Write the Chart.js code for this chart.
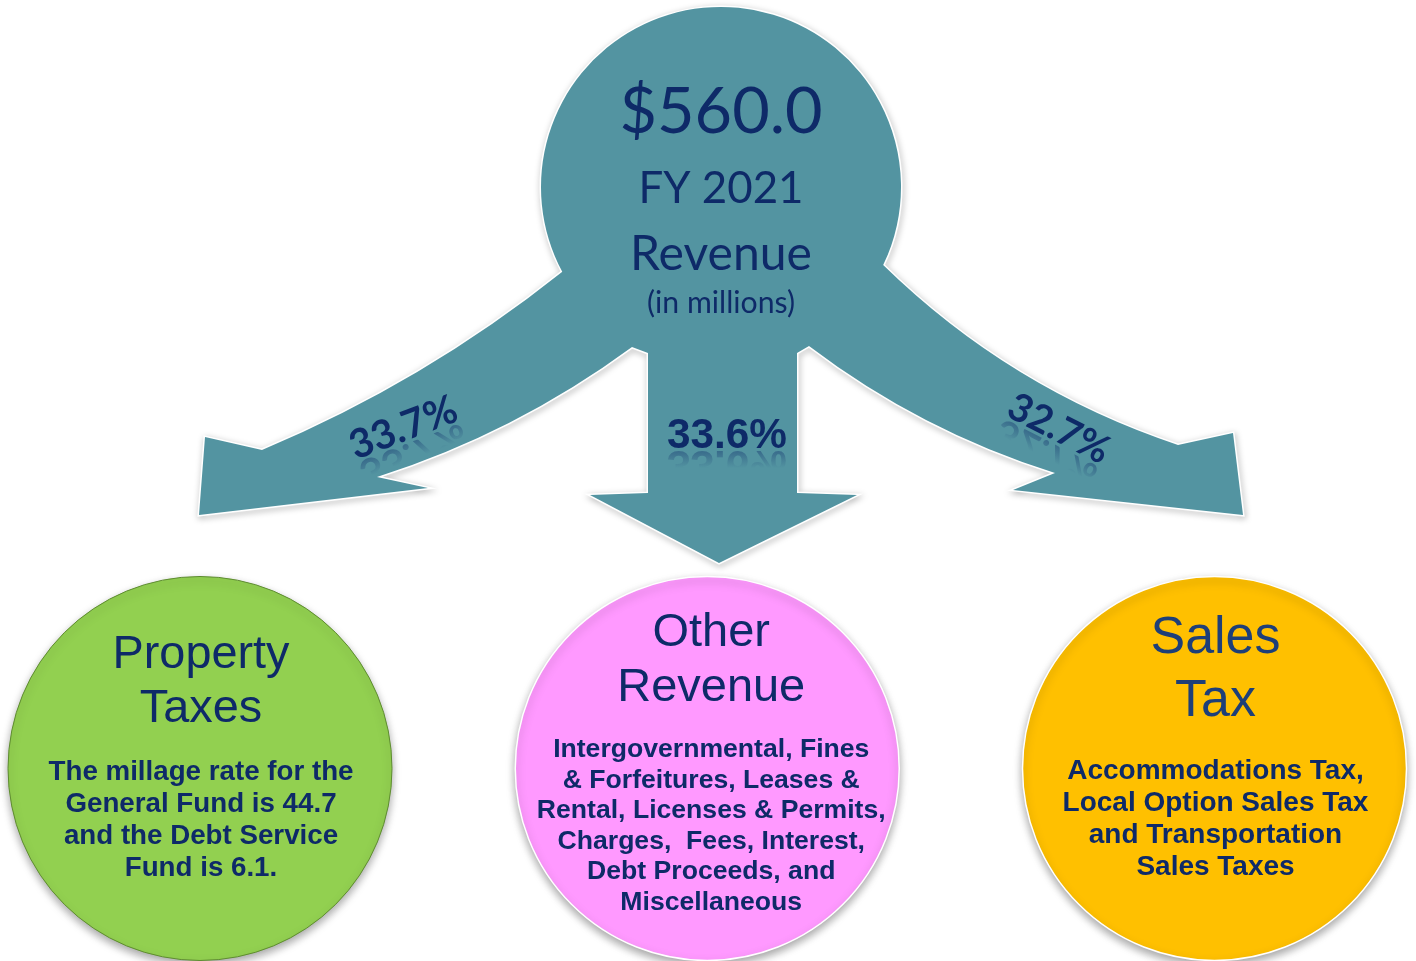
<!DOCTYPE html>
<html><head><meta charset="utf-8">
<script src="https://cdn.jsdelivr.net/npm/chart.js@4.4.1/dist/chart.umd.min.js"></script>
<style>html,body{margin:0;padding:0;background:#fff;overflow:hidden}#wrap{width:1416px;height:961px}</style>
</head><body><div id="wrap"><canvas id="c" width="1416" height="961"></canvas></div>
<script>
// ---------------- data ----------------
const categories = ['Property Taxes', 'Other Revenue', 'Sales Tax'];
const titleLines = [['Property', 'Taxes'], ['Other', 'Revenue'], ['Sales', 'Tax']];
const shares = [33.7, 33.6, 32.7];          // % of total revenue
const totalRevenue = 560.0;                 // $ millions
const fiscalYear = 'FY 2021';
const headerLines = ['Revenue', '(in millions)'];
const descriptions = [
  ['The millage rate for the', 'General Fund is 44.7', 'and the Debt Service', 'Fund is 6.1.'],
  ['Intergovernmental, Fines', '& Forfeitures, Leases &', 'Rental, Licenses & Permits,', 'Charges,  Fees, Interest,', 'Debt Proceeds, and', 'Miscellaneous'],
  ['Accommodations Tax,', 'Local Option Sales Tax', 'and Transportation', 'Sales Taxes']
];

// ---------------- style / layout ----------------
const NAVY = '#0E2A68';
const TEAL = '#5394A1';
const nodeColors = ['#92D050', '#FF99FF', '#FFC000'];
const nodeBorders = ['#5E8C30', '#FFFFFF', '#FFFFFF'];
const titleColors = [NAVY, NAVY, '#1E3F78'];
const NODE_R = 192;
const NODE_ROW = 770;
const PAD_V = 192;
const titleStyle = [
  {widthLine: 0, width: 177, base: 668, lh: 54},
  {widthLine: 1, width: 188, base: 646, lh: 55},
  {widthLine: 0, width: 130, base: 653, lh: 63}
];
const bodyStyle = [
  {widthLine: 0, width: 305, base: 780, lh: 32},
  {widthLine: 2, width: 349, base: 757, lh: 30.6},
  {widthLine: 1, width: 306, base: 779, lh: 32}
];
const textDx = [1, 4, 1];
const shareLabel = [
  {x: 408, y: 440, angle: -21, font: 'Lato', weight: 'bold', width: 112},
  {x: 727, y: 448, angle: 0, font: 'Liberation Sans', weight: 'bold', width: 120},
  {x: 1053, y: 440, angle: 27, font: 'Lato', weight: 'bold', width: 109}
];
const hub = {x: 721, y: 187, r: 180};

function flowPath(ctx) {
  ctx.beginPath();
  ctx.moveTo(562, 272);
  ctx.arc(hub.x, hub.y, hub.r, Math.atan2(272 - hub.y, 562 - hub.x), Math.atan2(265 - hub.y, 883 - hub.x), false);
  ctx.quadraticCurveTo(1010, 389, 1178, 445);
  ctx.lineTo(1233, 433); ctx.lineTo(1243, 515); ctx.lineTo(1013, 490); ctx.lineTo(1055, 473);
  ctx.quadraticCurveTo(921, 431, 809, 346);
  ctx.lineTo(797, 353); ctx.lineTo(797, 493); ctx.lineTo(857, 495); ctx.lineTo(719, 563);
  ctx.lineTo(590, 495); ctx.lineTo(648, 493); ctx.lineTo(648, 353); ctx.lineTo(632, 347);
  ctx.quadraticCurveTo(515, 433, 377, 477);
  ctx.lineTo(428, 488); ctx.lineTo(199, 515); ctx.lineTo(205, 437); ctx.lineTo(262, 450);
  ctx.quadraticCurveTo(424, 382, 562, 272);
  ctx.closePath();
}

function fitSize(ctx, text, weight, family, width) {
  ctx.font = `${weight} 100px "${family}"`;
  return 100 * width / ctx.measureText(text).width;
}

function drawReflected(ctx, text, font, x, y, angle, color) {
  ctx.save();
  ctx.translate(x, y);
  ctx.rotate(angle * Math.PI / 180);
  ctx.font = font; ctx.textAlign = 'center'; ctx.textBaseline = 'alphabetic';
  ctx.scale(1, -1);
  const g = ctx.createLinearGradient(0, 0, 0, -20);
  g.addColorStop(0, 'rgba(14,42,104,0.45)');
  g.addColorStop(1, 'rgba(14,42,104,0)');
  ctx.fillStyle = g;
  ctx.fillText(text, 0, -3);
  ctx.scale(1, -1);
  ctx.fillStyle = color;
  ctx.fillText(text, 0, 0);
  ctx.restore();
}

const flowPlugin = {
  id: 'flow',
  beforeDatasetsDraw(chart) {
    const ctx = chart.ctx;
    ctx.save();
    flowPath(ctx);
    ctx.shadowColor = 'rgba(0,0,0,0.35)'; ctx.shadowBlur = 6; ctx.shadowOffsetX = 1; ctx.shadowOffsetY = 2;
    ctx.strokeStyle = '#FFFFFF'; ctx.lineWidth = 3; ctx.lineJoin = 'miter';
    ctx.stroke();
    ctx.shadowColor = 'transparent';
    ctx.fillStyle = TEAL;
    ctx.fill();
    ctx.restore();
  },
  beforeDatasetDraw(chart) {
    const ctx = chart.ctx;
    ctx.save();
    ctx.shadowColor = 'rgba(0,0,0,0.35)'; ctx.shadowBlur = 9; ctx.shadowOffsetY = 4;
  },
  afterDatasetDraw(chart) { chart.ctx.restore(); }
};

const labelPlugin = {
  id: 'labels',
  afterDatasetsDraw(chart) {
    const ctx = chart.ctx, xs = chart.scales.x;
    ctx.save();
    ctx.textAlign = 'center'; ctx.textBaseline = 'alphabetic';
    ctx.fillStyle = NAVY;
    const hubText = [
      ['$' + totalRevenue.toFixed(1), 203, 133],
      [fiscalYear, 165, 203],
      [headerLines[0], 182, 270],
      [headerLines[1], 148, 313]
    ];
    hubText.forEach(([t, w, y]) => {
      const s = fitSize(ctx, t, '400', 'Lato', w);
      ctx.font = `400 ${s}px "Lato"`;
      ctx.fillText(t, hub.x, y);
    });
    shares.forEach((v, i) => {
      const L = shareLabel[i];
      const t = v.toFixed(1) + '%';
      const s = fitSize(ctx, t, L.weight, L.font, L.width);
      drawReflected(ctx, t, `${L.weight} ${s}px "${L.font}"`, L.x, L.y, L.angle, NAVY);
    });
    categories.forEach((c, i) => {
      const cx = xs.getPixelForValue(i) + textDx[i];
      const T = titleStyle[i];
      const ts = fitSize(ctx, titleLines[i][T.widthLine], '400', 'Liberation Sans', T.width);
      ctx.font = `400 ${ts}px "Liberation Sans"`;
      ctx.fillStyle = titleColors[i];
      titleLines[i].forEach((ln, k) => ctx.fillText(ln, cx, T.base + k * T.lh));
      const B = bodyStyle[i];
      const bs = fitSize(ctx, descriptions[i][B.widthLine], 'bold', 'Liberation Sans', B.width);
      ctx.font = `bold ${bs}px "Liberation Sans"`;
      ctx.fillStyle = NAVY;
      descriptions[i].forEach((ln, k) => ctx.fillText(ln, cx, B.base + k * B.lh));
    });
    ctx.restore();
  }
};

new Chart(document.getElementById('c'), {
  type: 'bubble',
  data: {
    labels: categories,
    datasets: [{
      label: 'Revenue sources',
      data: categories.map(c => ({x: c, y: NODE_ROW, r: NODE_R})),
      backgroundColor: nodeColors,
      borderColor: nodeBorders,
      borderWidth: [1, 1.5, 1.5],
      hoverRadius: 0,
      clip: false
    }]
  },
  options: {
    responsive: false,
    animation: false,
    devicePixelRatio: 1,
    events: [],
    layout: {padding: {left: 200, right: 201.5, top: PAD_V, bottom: PAD_V}},
    plugins: {legend: {display: false}, tooltip: {enabled: false}},
    scales: {
      x: {type: 'category', labels: categories, offset: false, display: false},
      // identity mapping: value == canvas pixel row inside the padded area
      y: {type: 'linear', min: PAD_V, max: 961 - PAD_V, reverse: true, display: false}
    }
  },
  plugins: [flowPlugin, labelPlugin]
});
</script>
</body></html>
